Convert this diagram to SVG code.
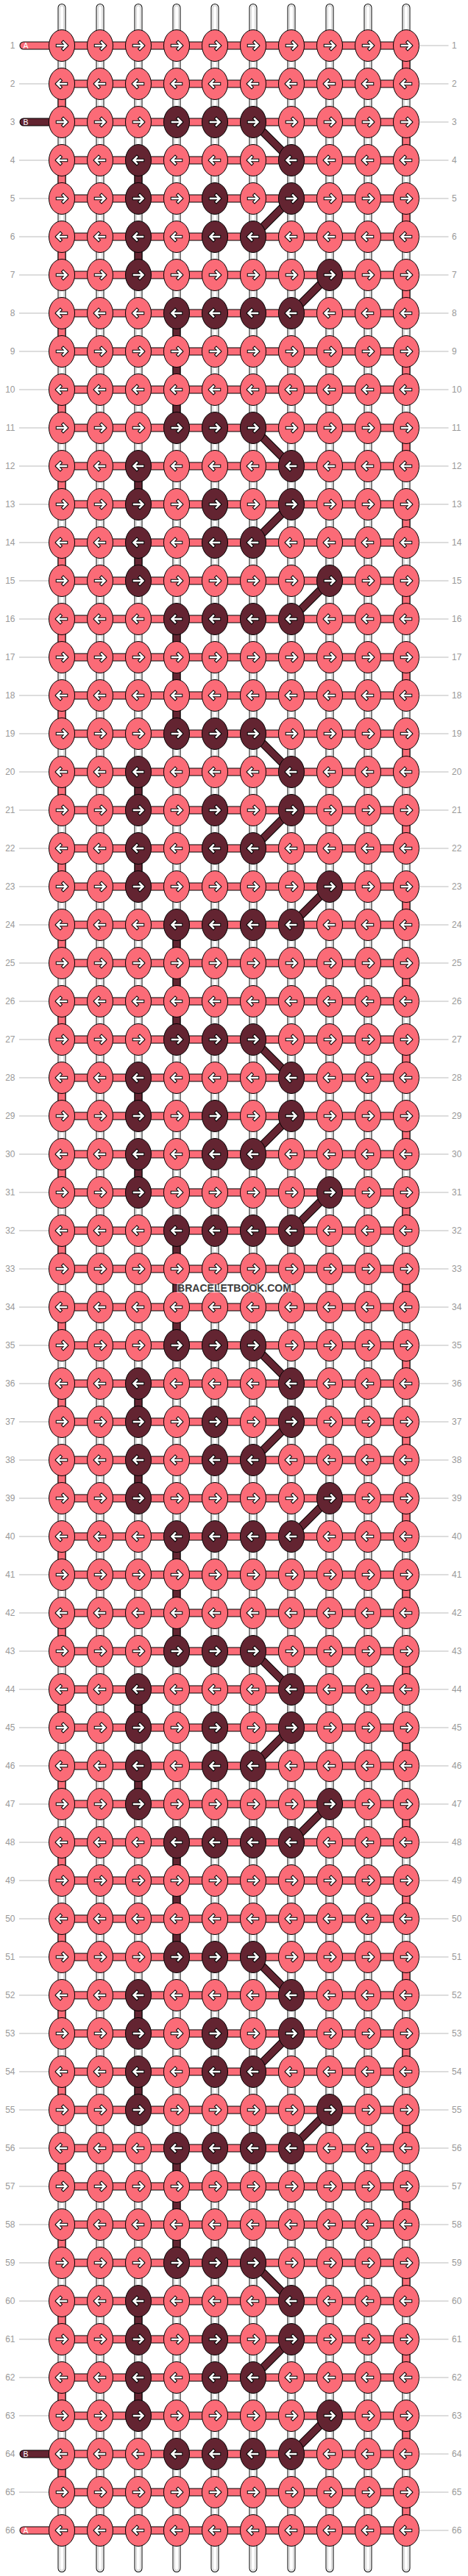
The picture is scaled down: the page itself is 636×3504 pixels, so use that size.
<svg xmlns="http://www.w3.org/2000/svg" width="636" height="3504" viewBox="0 0 636 3504">
<style>
.P{fill:#fb6b77;stroke:#000;stroke-width:1}
.D{fill:#632431;stroke:#000;stroke-width:1}
.ao{fill:none;stroke:#000;stroke-width:4.5;stroke-linecap:square}
.ai{fill:none;stroke:#fff;stroke-width:2.5;stroke-linecap:square}
.w1{fill:none;stroke:#000;stroke-width:11;stroke-linecap:round}
.w2{fill:none;stroke:#fff;stroke-width:9;stroke-linecap:round}
.w3{fill:none;stroke:#c8c8c8;stroke-width:6.5;stroke-linecap:round}
.w4{fill:none;stroke:#fff;stroke-width:4.5;stroke-linecap:round}
.ob{fill:none;stroke:#000;stroke-width:11}
.pk{fill:none;stroke:#fb6b77;stroke-width:9}
.dk{fill:none;stroke:#632431;stroke-width:9}
.obr{fill:none;stroke:#000;stroke-width:11;stroke-linecap:round}
.pkr{fill:none;stroke:#fb6b77;stroke-width:9;stroke-linecap:round}
.dkr{fill:none;stroke:#632431;stroke-width:9;stroke-linecap:round}
.gl{fill:none;stroke:#bbb;stroke-width:1}
.num{font-family:"Liberation Sans",Arial,sans-serif;font-size:12px;fill:#999}
.tl{font-family:"Liberation Sans",Arial,sans-serif;font-size:10.5px;fill:#fff}
.wm{font-family:"Liberation Sans",Arial,sans-serif;font-size:14px;font-weight:bold;fill:#3c3c3c;stroke:#fff;stroke-opacity:.6;stroke-width:2.5;paint-order:stroke;text-anchor:middle}
</style>
<defs>
<path id="ws" d="M84 10.5V3493.5m52-3483V3493.5m52-3483V3493.5m52-3483V3493.5m52-3483V3493.5m52-3483V3493.5m52-3483V3493.5m52-3483V3493.5m52-3483V3493.5m52-3483V3493.5"/>
<path id="hb" d="M84 62h468
m-468 52h468m-468 52h468m-468 52h468m-468 52h468m-468 52h468
m-468 52h468m-468 52h468m-468 52h468m-468 52h468m-468 52h468
m-468 52h468m-468 52h468m-468 52h468m-468 52h468m-468 52h468
m-468 52h468m-468 52h468m-468 52h468m-468 52h468m-468 52h468
m-468 52h468m-468 52h468m-468 52h468m-468 52h468m-468 52h468
m-468 52h468m-468 52h468m-468 52h468m-468 52h468m-468 52h468
m-468 52h468m-468 52h468m-468 52h468m-468 52h468m-468 52h468
m-468 52h468m-468 52h468m-468 52h468m-468 52h468m-468 52h468
m-468 52h468m-468 52h468m-468 52h468m-468 52h468m-468 52h468
m-468 52h468m-468 52h468m-468 52h468m-468 52h468m-468 52h468
m-468 52h468m-468 52h468m-468 52h468m-468 52h468m-468 52h468
m-468 52h468m-468 52h468m-468 52h468m-468 52h468m-468 52h468
m-468 52h468m-468 52h468m-468 52h468m-468 52h468m-468 52h468"/>
<path id="dc" d="M344 166L396 218M188 218V270M396 270L344 322M188 322V374M448 374L396 426M240 426V582M344 582L396 634M188 634V686M396 686L344 738M188 738V790M448 790L396 842M240 842V998M344 998L396 1050M188 1050V1102M396 1102L344 1154M188 1154V1206M448 1206L396 1258M240 1258V1414M344 1414L396 1466M188 1466V1518M396 1518L344 1570M188 1570V1622M448 1622L396 1674M240 1674V1830M344 1830L396 1882M188 1882V1934M396 1934L344 1986M188 1986V2038M448 2038L396 2090M240 2090V2246M344 2246L396 2298M188 2298V2350M396 2350L344 2402M188 2402V2454M448 2454L396 2506M240 2506V2662M344 2662L396 2714M188 2714V2766M396 2766L344 2818M188 2818V2870M448 2870L396 2922M240 2922V3078M344 3078L396 3130M188 3130V3182M396 3182L344 3234M188 3234V3286M448 3286L396 3338"/>
<g id="aR"><path class="ao" d="M-6 0H6M2-4.5L6.5 0L2 4.5"/><path class="ai" d="M-6 0H6M2-4.5L6.5 0L2 4.5"/></g>
<g id="aL"><use href="#aR" transform="scale(-1,1)"/></g>
<g id="pR"><ellipse class="P" rx="17.5" ry="21.5"/><use href="#aR"/></g>
<g id="pL"><ellipse class="P" rx="17.5" ry="21.5"/><use href="#aL"/></g>
<g id="dR"><ellipse class="D" rx="17.5" ry="21.5"/><use href="#aR"/></g>
<g id="dL"><ellipse class="D" rx="17.5" ry="21.5"/><use href="#aL"/></g>
</defs>
<rect width="636" height="3504" fill="#fff"/>
<g id="strings">
<use href="#ws" class="w1"/><use href="#ws" class="w2"/><use href="#ws" class="w3"/><use href="#ws" class="w4"/>
</g>
<g id="connectors">
<use href="#hb" class="ob"/><use href="#hb" class="pk"/>
<path class="ob" d="M84 114V3390" stroke-dasharray="52 52"/>
<path class="ob" d="M552 62V3442" stroke-dasharray="52 52"/>
<path class="pk" d="M84 114V3390" stroke-dasharray="52 52"/>
<path class="pk" d="M552 62V3442" stroke-dasharray="52 52"/>
<use href="#dc" class="ob"/><use href="#dc" class="dk"/>
<path class="obr" d="M32 62H84M32 166H84M32 3338H84M32 3442H84"/>
<path class="pkr" d="M32 62H84M32 3442H84"/>
<path class="dkr" d="M32 166H84M32 3338H84"/>
</g>
<g id="knots">
<g id="r1" transform="translate(0,62)"><use id="k1-1" href="#pR" x="84"/><use id="k1-2" href="#pR" x="136"/><use id="k1-3" href="#pR" x="188"/><use id="k1-4" href="#pR" x="240"/><use id="k1-5" href="#pR" x="292"/><use id="k1-6" href="#pR" x="344"/><use id="k1-7" href="#pR" x="396"/><use id="k1-8" href="#pR" x="448"/><use id="k1-9" href="#pR" x="500"/><use id="k1-10" href="#pR" x="552"/></g>
<g id="r2" transform="translate(0,114)"><use id="k2-1" href="#pL" x="84"/><use id="k2-2" href="#pL" x="136"/><use id="k2-3" href="#pL" x="188"/><use id="k2-4" href="#pL" x="240"/><use id="k2-5" href="#pL" x="292"/><use id="k2-6" href="#pL" x="344"/><use id="k2-7" href="#pL" x="396"/><use id="k2-8" href="#pL" x="448"/><use id="k2-9" href="#pL" x="500"/><use id="k2-10" href="#pL" x="552"/></g>
<g id="r3" transform="translate(0,166)"><use id="k3-1" href="#pR" x="84"/><use id="k3-2" href="#pR" x="136"/><use id="k3-3" href="#pR" x="188"/><use id="k3-4" href="#dR" x="240"/><use id="k3-5" href="#dR" x="292"/><use id="k3-6" href="#dR" x="344"/><use id="k3-7" href="#pR" x="396"/><use id="k3-8" href="#pR" x="448"/><use id="k3-9" href="#pR" x="500"/><use id="k3-10" href="#pR" x="552"/></g>
<g id="r4" transform="translate(0,218)"><use id="k4-1" href="#pL" x="84"/><use id="k4-2" href="#pL" x="136"/><use id="k4-3" href="#dL" x="188"/><use id="k4-4" href="#pL" x="240"/><use id="k4-5" href="#pL" x="292"/><use id="k4-6" href="#pL" x="344"/><use id="k4-7" href="#dL" x="396"/><use id="k4-8" href="#pL" x="448"/><use id="k4-9" href="#pL" x="500"/><use id="k4-10" href="#pL" x="552"/></g>
<g id="r5" transform="translate(0,270)"><use id="k5-1" href="#pR" x="84"/><use id="k5-2" href="#pR" x="136"/><use id="k5-3" href="#dR" x="188"/><use id="k5-4" href="#pR" x="240"/><use id="k5-5" href="#dR" x="292"/><use id="k5-6" href="#pR" x="344"/><use id="k5-7" href="#dR" x="396"/><use id="k5-8" href="#pR" x="448"/><use id="k5-9" href="#pR" x="500"/><use id="k5-10" href="#pR" x="552"/></g>
<g id="r6" transform="translate(0,322)"><use id="k6-1" href="#pL" x="84"/><use id="k6-2" href="#pL" x="136"/><use id="k6-3" href="#dL" x="188"/><use id="k6-4" href="#pL" x="240"/><use id="k6-5" href="#dL" x="292"/><use id="k6-6" href="#dL" x="344"/><use id="k6-7" href="#pL" x="396"/><use id="k6-8" href="#pL" x="448"/><use id="k6-9" href="#pL" x="500"/><use id="k6-10" href="#pL" x="552"/></g>
<g id="r7" transform="translate(0,374)"><use id="k7-1" href="#pR" x="84"/><use id="k7-2" href="#pR" x="136"/><use id="k7-3" href="#dR" x="188"/><use id="k7-4" href="#pR" x="240"/><use id="k7-5" href="#pR" x="292"/><use id="k7-6" href="#pR" x="344"/><use id="k7-7" href="#pR" x="396"/><use id="k7-8" href="#dR" x="448"/><use id="k7-9" href="#pR" x="500"/><use id="k7-10" href="#pR" x="552"/></g>
<g id="r8" transform="translate(0,426)"><use id="k8-1" href="#pL" x="84"/><use id="k8-2" href="#pL" x="136"/><use id="k8-3" href="#pL" x="188"/><use id="k8-4" href="#dL" x="240"/><use id="k8-5" href="#dL" x="292"/><use id="k8-6" href="#dL" x="344"/><use id="k8-7" href="#dL" x="396"/><use id="k8-8" href="#pL" x="448"/><use id="k8-9" href="#pL" x="500"/><use id="k8-10" href="#pL" x="552"/></g>
<g id="r9" transform="translate(0,478)"><use id="k9-1" href="#pR" x="84"/><use id="k9-2" href="#pR" x="136"/><use id="k9-3" href="#pR" x="188"/><use id="k9-4" href="#pR" x="240"/><use id="k9-5" href="#pR" x="292"/><use id="k9-6" href="#pR" x="344"/><use id="k9-7" href="#pR" x="396"/><use id="k9-8" href="#pR" x="448"/><use id="k9-9" href="#pR" x="500"/><use id="k9-10" href="#pR" x="552"/></g>
<g id="r10" transform="translate(0,530)"><use id="k10-1" href="#pL" x="84"/><use id="k10-2" href="#pL" x="136"/><use id="k10-3" href="#pL" x="188"/><use id="k10-4" href="#pL" x="240"/><use id="k10-5" href="#pL" x="292"/><use id="k10-6" href="#pL" x="344"/><use id="k10-7" href="#pL" x="396"/><use id="k10-8" href="#pL" x="448"/><use id="k10-9" href="#pL" x="500"/><use id="k10-10" href="#pL" x="552"/></g>
<g id="r11" transform="translate(0,582)"><use id="k11-1" href="#pR" x="84"/><use id="k11-2" href="#pR" x="136"/><use id="k11-3" href="#pR" x="188"/><use id="k11-4" href="#dR" x="240"/><use id="k11-5" href="#dR" x="292"/><use id="k11-6" href="#dR" x="344"/><use id="k11-7" href="#pR" x="396"/><use id="k11-8" href="#pR" x="448"/><use id="k11-9" href="#pR" x="500"/><use id="k11-10" href="#pR" x="552"/></g>
<g id="r12" transform="translate(0,634)"><use id="k12-1" href="#pL" x="84"/><use id="k12-2" href="#pL" x="136"/><use id="k12-3" href="#dL" x="188"/><use id="k12-4" href="#pL" x="240"/><use id="k12-5" href="#pL" x="292"/><use id="k12-6" href="#pL" x="344"/><use id="k12-7" href="#dL" x="396"/><use id="k12-8" href="#pL" x="448"/><use id="k12-9" href="#pL" x="500"/><use id="k12-10" href="#pL" x="552"/></g>
<g id="r13" transform="translate(0,686)"><use id="k13-1" href="#pR" x="84"/><use id="k13-2" href="#pR" x="136"/><use id="k13-3" href="#dR" x="188"/><use id="k13-4" href="#pR" x="240"/><use id="k13-5" href="#dR" x="292"/><use id="k13-6" href="#pR" x="344"/><use id="k13-7" href="#dR" x="396"/><use id="k13-8" href="#pR" x="448"/><use id="k13-9" href="#pR" x="500"/><use id="k13-10" href="#pR" x="552"/></g>
<g id="r14" transform="translate(0,738)"><use id="k14-1" href="#pL" x="84"/><use id="k14-2" href="#pL" x="136"/><use id="k14-3" href="#dL" x="188"/><use id="k14-4" href="#pL" x="240"/><use id="k14-5" href="#dL" x="292"/><use id="k14-6" href="#dL" x="344"/><use id="k14-7" href="#pL" x="396"/><use id="k14-8" href="#pL" x="448"/><use id="k14-9" href="#pL" x="500"/><use id="k14-10" href="#pL" x="552"/></g>
<g id="r15" transform="translate(0,790)"><use id="k15-1" href="#pR" x="84"/><use id="k15-2" href="#pR" x="136"/><use id="k15-3" href="#dR" x="188"/><use id="k15-4" href="#pR" x="240"/><use id="k15-5" href="#pR" x="292"/><use id="k15-6" href="#pR" x="344"/><use id="k15-7" href="#pR" x="396"/><use id="k15-8" href="#dR" x="448"/><use id="k15-9" href="#pR" x="500"/><use id="k15-10" href="#pR" x="552"/></g>
<g id="r16" transform="translate(0,842)"><use id="k16-1" href="#pL" x="84"/><use id="k16-2" href="#pL" x="136"/><use id="k16-3" href="#pL" x="188"/><use id="k16-4" href="#dL" x="240"/><use id="k16-5" href="#dL" x="292"/><use id="k16-6" href="#dL" x="344"/><use id="k16-7" href="#dL" x="396"/><use id="k16-8" href="#pL" x="448"/><use id="k16-9" href="#pL" x="500"/><use id="k16-10" href="#pL" x="552"/></g>
<g id="r17" transform="translate(0,894)"><use id="k17-1" href="#pR" x="84"/><use id="k17-2" href="#pR" x="136"/><use id="k17-3" href="#pR" x="188"/><use id="k17-4" href="#pR" x="240"/><use id="k17-5" href="#pR" x="292"/><use id="k17-6" href="#pR" x="344"/><use id="k17-7" href="#pR" x="396"/><use id="k17-8" href="#pR" x="448"/><use id="k17-9" href="#pR" x="500"/><use id="k17-10" href="#pR" x="552"/></g>
<g id="r18" transform="translate(0,946)"><use id="k18-1" href="#pL" x="84"/><use id="k18-2" href="#pL" x="136"/><use id="k18-3" href="#pL" x="188"/><use id="k18-4" href="#pL" x="240"/><use id="k18-5" href="#pL" x="292"/><use id="k18-6" href="#pL" x="344"/><use id="k18-7" href="#pL" x="396"/><use id="k18-8" href="#pL" x="448"/><use id="k18-9" href="#pL" x="500"/><use id="k18-10" href="#pL" x="552"/></g>
<g id="r19" transform="translate(0,998)"><use id="k19-1" href="#pR" x="84"/><use id="k19-2" href="#pR" x="136"/><use id="k19-3" href="#pR" x="188"/><use id="k19-4" href="#dR" x="240"/><use id="k19-5" href="#dR" x="292"/><use id="k19-6" href="#dR" x="344"/><use id="k19-7" href="#pR" x="396"/><use id="k19-8" href="#pR" x="448"/><use id="k19-9" href="#pR" x="500"/><use id="k19-10" href="#pR" x="552"/></g>
<g id="r20" transform="translate(0,1050)"><use id="k20-1" href="#pL" x="84"/><use id="k20-2" href="#pL" x="136"/><use id="k20-3" href="#dL" x="188"/><use id="k20-4" href="#pL" x="240"/><use id="k20-5" href="#pL" x="292"/><use id="k20-6" href="#pL" x="344"/><use id="k20-7" href="#dL" x="396"/><use id="k20-8" href="#pL" x="448"/><use id="k20-9" href="#pL" x="500"/><use id="k20-10" href="#pL" x="552"/></g>
<g id="r21" transform="translate(0,1102)"><use id="k21-1" href="#pR" x="84"/><use id="k21-2" href="#pR" x="136"/><use id="k21-3" href="#dR" x="188"/><use id="k21-4" href="#pR" x="240"/><use id="k21-5" href="#dR" x="292"/><use id="k21-6" href="#pR" x="344"/><use id="k21-7" href="#dR" x="396"/><use id="k21-8" href="#pR" x="448"/><use id="k21-9" href="#pR" x="500"/><use id="k21-10" href="#pR" x="552"/></g>
<g id="r22" transform="translate(0,1154)"><use id="k22-1" href="#pL" x="84"/><use id="k22-2" href="#pL" x="136"/><use id="k22-3" href="#dL" x="188"/><use id="k22-4" href="#pL" x="240"/><use id="k22-5" href="#dL" x="292"/><use id="k22-6" href="#dL" x="344"/><use id="k22-7" href="#pL" x="396"/><use id="k22-8" href="#pL" x="448"/><use id="k22-9" href="#pL" x="500"/><use id="k22-10" href="#pL" x="552"/></g>
<g id="r23" transform="translate(0,1206)"><use id="k23-1" href="#pR" x="84"/><use id="k23-2" href="#pR" x="136"/><use id="k23-3" href="#dR" x="188"/><use id="k23-4" href="#pR" x="240"/><use id="k23-5" href="#pR" x="292"/><use id="k23-6" href="#pR" x="344"/><use id="k23-7" href="#pR" x="396"/><use id="k23-8" href="#dR" x="448"/><use id="k23-9" href="#pR" x="500"/><use id="k23-10" href="#pR" x="552"/></g>
<g id="r24" transform="translate(0,1258)"><use id="k24-1" href="#pL" x="84"/><use id="k24-2" href="#pL" x="136"/><use id="k24-3" href="#pL" x="188"/><use id="k24-4" href="#dL" x="240"/><use id="k24-5" href="#dL" x="292"/><use id="k24-6" href="#dL" x="344"/><use id="k24-7" href="#dL" x="396"/><use id="k24-8" href="#pL" x="448"/><use id="k24-9" href="#pL" x="500"/><use id="k24-10" href="#pL" x="552"/></g>
<g id="r25" transform="translate(0,1310)"><use id="k25-1" href="#pR" x="84"/><use id="k25-2" href="#pR" x="136"/><use id="k25-3" href="#pR" x="188"/><use id="k25-4" href="#pR" x="240"/><use id="k25-5" href="#pR" x="292"/><use id="k25-6" href="#pR" x="344"/><use id="k25-7" href="#pR" x="396"/><use id="k25-8" href="#pR" x="448"/><use id="k25-9" href="#pR" x="500"/><use id="k25-10" href="#pR" x="552"/></g>
<g id="r26" transform="translate(0,1362)"><use id="k26-1" href="#pL" x="84"/><use id="k26-2" href="#pL" x="136"/><use id="k26-3" href="#pL" x="188"/><use id="k26-4" href="#pL" x="240"/><use id="k26-5" href="#pL" x="292"/><use id="k26-6" href="#pL" x="344"/><use id="k26-7" href="#pL" x="396"/><use id="k26-8" href="#pL" x="448"/><use id="k26-9" href="#pL" x="500"/><use id="k26-10" href="#pL" x="552"/></g>
<g id="r27" transform="translate(0,1414)"><use id="k27-1" href="#pR" x="84"/><use id="k27-2" href="#pR" x="136"/><use id="k27-3" href="#pR" x="188"/><use id="k27-4" href="#dR" x="240"/><use id="k27-5" href="#dR" x="292"/><use id="k27-6" href="#dR" x="344"/><use id="k27-7" href="#pR" x="396"/><use id="k27-8" href="#pR" x="448"/><use id="k27-9" href="#pR" x="500"/><use id="k27-10" href="#pR" x="552"/></g>
<g id="r28" transform="translate(0,1466)"><use id="k28-1" href="#pL" x="84"/><use id="k28-2" href="#pL" x="136"/><use id="k28-3" href="#dL" x="188"/><use id="k28-4" href="#pL" x="240"/><use id="k28-5" href="#pL" x="292"/><use id="k28-6" href="#pL" x="344"/><use id="k28-7" href="#dL" x="396"/><use id="k28-8" href="#pL" x="448"/><use id="k28-9" href="#pL" x="500"/><use id="k28-10" href="#pL" x="552"/></g>
<g id="r29" transform="translate(0,1518)"><use id="k29-1" href="#pR" x="84"/><use id="k29-2" href="#pR" x="136"/><use id="k29-3" href="#dR" x="188"/><use id="k29-4" href="#pR" x="240"/><use id="k29-5" href="#dR" x="292"/><use id="k29-6" href="#pR" x="344"/><use id="k29-7" href="#dR" x="396"/><use id="k29-8" href="#pR" x="448"/><use id="k29-9" href="#pR" x="500"/><use id="k29-10" href="#pR" x="552"/></g>
<g id="r30" transform="translate(0,1570)"><use id="k30-1" href="#pL" x="84"/><use id="k30-2" href="#pL" x="136"/><use id="k30-3" href="#dL" x="188"/><use id="k30-4" href="#pL" x="240"/><use id="k30-5" href="#dL" x="292"/><use id="k30-6" href="#dL" x="344"/><use id="k30-7" href="#pL" x="396"/><use id="k30-8" href="#pL" x="448"/><use id="k30-9" href="#pL" x="500"/><use id="k30-10" href="#pL" x="552"/></g>
<g id="r31" transform="translate(0,1622)"><use id="k31-1" href="#pR" x="84"/><use id="k31-2" href="#pR" x="136"/><use id="k31-3" href="#dR" x="188"/><use id="k31-4" href="#pR" x="240"/><use id="k31-5" href="#pR" x="292"/><use id="k31-6" href="#pR" x="344"/><use id="k31-7" href="#pR" x="396"/><use id="k31-8" href="#dR" x="448"/><use id="k31-9" href="#pR" x="500"/><use id="k31-10" href="#pR" x="552"/></g>
<g id="r32" transform="translate(0,1674)"><use id="k32-1" href="#pL" x="84"/><use id="k32-2" href="#pL" x="136"/><use id="k32-3" href="#pL" x="188"/><use id="k32-4" href="#dL" x="240"/><use id="k32-5" href="#dL" x="292"/><use id="k32-6" href="#dL" x="344"/><use id="k32-7" href="#dL" x="396"/><use id="k32-8" href="#pL" x="448"/><use id="k32-9" href="#pL" x="500"/><use id="k32-10" href="#pL" x="552"/></g>
<g id="r33" transform="translate(0,1726)"><use id="k33-1" href="#pR" x="84"/><use id="k33-2" href="#pR" x="136"/><use id="k33-3" href="#pR" x="188"/><use id="k33-4" href="#pR" x="240"/><use id="k33-5" href="#pR" x="292"/><use id="k33-6" href="#pR" x="344"/><use id="k33-7" href="#pR" x="396"/><use id="k33-8" href="#pR" x="448"/><use id="k33-9" href="#pR" x="500"/><use id="k33-10" href="#pR" x="552"/></g>
<g id="r34" transform="translate(0,1778)"><use id="k34-1" href="#pL" x="84"/><use id="k34-2" href="#pL" x="136"/><use id="k34-3" href="#pL" x="188"/><use id="k34-4" href="#pL" x="240"/><use id="k34-5" href="#pL" x="292"/><use id="k34-6" href="#pL" x="344"/><use id="k34-7" href="#pL" x="396"/><use id="k34-8" href="#pL" x="448"/><use id="k34-9" href="#pL" x="500"/><use id="k34-10" href="#pL" x="552"/></g>
<g id="r35" transform="translate(0,1830)"><use id="k35-1" href="#pR" x="84"/><use id="k35-2" href="#pR" x="136"/><use id="k35-3" href="#pR" x="188"/><use id="k35-4" href="#dR" x="240"/><use id="k35-5" href="#dR" x="292"/><use id="k35-6" href="#dR" x="344"/><use id="k35-7" href="#pR" x="396"/><use id="k35-8" href="#pR" x="448"/><use id="k35-9" href="#pR" x="500"/><use id="k35-10" href="#pR" x="552"/></g>
<g id="r36" transform="translate(0,1882)"><use id="k36-1" href="#pL" x="84"/><use id="k36-2" href="#pL" x="136"/><use id="k36-3" href="#dL" x="188"/><use id="k36-4" href="#pL" x="240"/><use id="k36-5" href="#pL" x="292"/><use id="k36-6" href="#pL" x="344"/><use id="k36-7" href="#dL" x="396"/><use id="k36-8" href="#pL" x="448"/><use id="k36-9" href="#pL" x="500"/><use id="k36-10" href="#pL" x="552"/></g>
<g id="r37" transform="translate(0,1934)"><use id="k37-1" href="#pR" x="84"/><use id="k37-2" href="#pR" x="136"/><use id="k37-3" href="#dR" x="188"/><use id="k37-4" href="#pR" x="240"/><use id="k37-5" href="#dR" x="292"/><use id="k37-6" href="#pR" x="344"/><use id="k37-7" href="#dR" x="396"/><use id="k37-8" href="#pR" x="448"/><use id="k37-9" href="#pR" x="500"/><use id="k37-10" href="#pR" x="552"/></g>
<g id="r38" transform="translate(0,1986)"><use id="k38-1" href="#pL" x="84"/><use id="k38-2" href="#pL" x="136"/><use id="k38-3" href="#dL" x="188"/><use id="k38-4" href="#pL" x="240"/><use id="k38-5" href="#dL" x="292"/><use id="k38-6" href="#dL" x="344"/><use id="k38-7" href="#pL" x="396"/><use id="k38-8" href="#pL" x="448"/><use id="k38-9" href="#pL" x="500"/><use id="k38-10" href="#pL" x="552"/></g>
<g id="r39" transform="translate(0,2038)"><use id="k39-1" href="#pR" x="84"/><use id="k39-2" href="#pR" x="136"/><use id="k39-3" href="#dR" x="188"/><use id="k39-4" href="#pR" x="240"/><use id="k39-5" href="#pR" x="292"/><use id="k39-6" href="#pR" x="344"/><use id="k39-7" href="#pR" x="396"/><use id="k39-8" href="#dR" x="448"/><use id="k39-9" href="#pR" x="500"/><use id="k39-10" href="#pR" x="552"/></g>
<g id="r40" transform="translate(0,2090)"><use id="k40-1" href="#pL" x="84"/><use id="k40-2" href="#pL" x="136"/><use id="k40-3" href="#pL" x="188"/><use id="k40-4" href="#dL" x="240"/><use id="k40-5" href="#dL" x="292"/><use id="k40-6" href="#dL" x="344"/><use id="k40-7" href="#dL" x="396"/><use id="k40-8" href="#pL" x="448"/><use id="k40-9" href="#pL" x="500"/><use id="k40-10" href="#pL" x="552"/></g>
<g id="r41" transform="translate(0,2142)"><use id="k41-1" href="#pR" x="84"/><use id="k41-2" href="#pR" x="136"/><use id="k41-3" href="#pR" x="188"/><use id="k41-4" href="#pR" x="240"/><use id="k41-5" href="#pR" x="292"/><use id="k41-6" href="#pR" x="344"/><use id="k41-7" href="#pR" x="396"/><use id="k41-8" href="#pR" x="448"/><use id="k41-9" href="#pR" x="500"/><use id="k41-10" href="#pR" x="552"/></g>
<g id="r42" transform="translate(0,2194)"><use id="k42-1" href="#pL" x="84"/><use id="k42-2" href="#pL" x="136"/><use id="k42-3" href="#pL" x="188"/><use id="k42-4" href="#pL" x="240"/><use id="k42-5" href="#pL" x="292"/><use id="k42-6" href="#pL" x="344"/><use id="k42-7" href="#pL" x="396"/><use id="k42-8" href="#pL" x="448"/><use id="k42-9" href="#pL" x="500"/><use id="k42-10" href="#pL" x="552"/></g>
<g id="r43" transform="translate(0,2246)"><use id="k43-1" href="#pR" x="84"/><use id="k43-2" href="#pR" x="136"/><use id="k43-3" href="#pR" x="188"/><use id="k43-4" href="#dR" x="240"/><use id="k43-5" href="#dR" x="292"/><use id="k43-6" href="#dR" x="344"/><use id="k43-7" href="#pR" x="396"/><use id="k43-8" href="#pR" x="448"/><use id="k43-9" href="#pR" x="500"/><use id="k43-10" href="#pR" x="552"/></g>
<g id="r44" transform="translate(0,2298)"><use id="k44-1" href="#pL" x="84"/><use id="k44-2" href="#pL" x="136"/><use id="k44-3" href="#dL" x="188"/><use id="k44-4" href="#pL" x="240"/><use id="k44-5" href="#pL" x="292"/><use id="k44-6" href="#pL" x="344"/><use id="k44-7" href="#dL" x="396"/><use id="k44-8" href="#pL" x="448"/><use id="k44-9" href="#pL" x="500"/><use id="k44-10" href="#pL" x="552"/></g>
<g id="r45" transform="translate(0,2350)"><use id="k45-1" href="#pR" x="84"/><use id="k45-2" href="#pR" x="136"/><use id="k45-3" href="#dR" x="188"/><use id="k45-4" href="#pR" x="240"/><use id="k45-5" href="#dR" x="292"/><use id="k45-6" href="#pR" x="344"/><use id="k45-7" href="#dR" x="396"/><use id="k45-8" href="#pR" x="448"/><use id="k45-9" href="#pR" x="500"/><use id="k45-10" href="#pR" x="552"/></g>
<g id="r46" transform="translate(0,2402)"><use id="k46-1" href="#pL" x="84"/><use id="k46-2" href="#pL" x="136"/><use id="k46-3" href="#dL" x="188"/><use id="k46-4" href="#pL" x="240"/><use id="k46-5" href="#dL" x="292"/><use id="k46-6" href="#dL" x="344"/><use id="k46-7" href="#pL" x="396"/><use id="k46-8" href="#pL" x="448"/><use id="k46-9" href="#pL" x="500"/><use id="k46-10" href="#pL" x="552"/></g>
<g id="r47" transform="translate(0,2454)"><use id="k47-1" href="#pR" x="84"/><use id="k47-2" href="#pR" x="136"/><use id="k47-3" href="#dR" x="188"/><use id="k47-4" href="#pR" x="240"/><use id="k47-5" href="#pR" x="292"/><use id="k47-6" href="#pR" x="344"/><use id="k47-7" href="#pR" x="396"/><use id="k47-8" href="#dR" x="448"/><use id="k47-9" href="#pR" x="500"/><use id="k47-10" href="#pR" x="552"/></g>
<g id="r48" transform="translate(0,2506)"><use id="k48-1" href="#pL" x="84"/><use id="k48-2" href="#pL" x="136"/><use id="k48-3" href="#pL" x="188"/><use id="k48-4" href="#dL" x="240"/><use id="k48-5" href="#dL" x="292"/><use id="k48-6" href="#dL" x="344"/><use id="k48-7" href="#dL" x="396"/><use id="k48-8" href="#pL" x="448"/><use id="k48-9" href="#pL" x="500"/><use id="k48-10" href="#pL" x="552"/></g>
<g id="r49" transform="translate(0,2558)"><use id="k49-1" href="#pR" x="84"/><use id="k49-2" href="#pR" x="136"/><use id="k49-3" href="#pR" x="188"/><use id="k49-4" href="#pR" x="240"/><use id="k49-5" href="#pR" x="292"/><use id="k49-6" href="#pR" x="344"/><use id="k49-7" href="#pR" x="396"/><use id="k49-8" href="#pR" x="448"/><use id="k49-9" href="#pR" x="500"/><use id="k49-10" href="#pR" x="552"/></g>
<g id="r50" transform="translate(0,2610)"><use id="k50-1" href="#pL" x="84"/><use id="k50-2" href="#pL" x="136"/><use id="k50-3" href="#pL" x="188"/><use id="k50-4" href="#pL" x="240"/><use id="k50-5" href="#pL" x="292"/><use id="k50-6" href="#pL" x="344"/><use id="k50-7" href="#pL" x="396"/><use id="k50-8" href="#pL" x="448"/><use id="k50-9" href="#pL" x="500"/><use id="k50-10" href="#pL" x="552"/></g>
<g id="r51" transform="translate(0,2662)"><use id="k51-1" href="#pR" x="84"/><use id="k51-2" href="#pR" x="136"/><use id="k51-3" href="#pR" x="188"/><use id="k51-4" href="#dR" x="240"/><use id="k51-5" href="#dR" x="292"/><use id="k51-6" href="#dR" x="344"/><use id="k51-7" href="#pR" x="396"/><use id="k51-8" href="#pR" x="448"/><use id="k51-9" href="#pR" x="500"/><use id="k51-10" href="#pR" x="552"/></g>
<g id="r52" transform="translate(0,2714)"><use id="k52-1" href="#pL" x="84"/><use id="k52-2" href="#pL" x="136"/><use id="k52-3" href="#dL" x="188"/><use id="k52-4" href="#pL" x="240"/><use id="k52-5" href="#pL" x="292"/><use id="k52-6" href="#pL" x="344"/><use id="k52-7" href="#dL" x="396"/><use id="k52-8" href="#pL" x="448"/><use id="k52-9" href="#pL" x="500"/><use id="k52-10" href="#pL" x="552"/></g>
<g id="r53" transform="translate(0,2766)"><use id="k53-1" href="#pR" x="84"/><use id="k53-2" href="#pR" x="136"/><use id="k53-3" href="#dR" x="188"/><use id="k53-4" href="#pR" x="240"/><use id="k53-5" href="#dR" x="292"/><use id="k53-6" href="#pR" x="344"/><use id="k53-7" href="#dR" x="396"/><use id="k53-8" href="#pR" x="448"/><use id="k53-9" href="#pR" x="500"/><use id="k53-10" href="#pR" x="552"/></g>
<g id="r54" transform="translate(0,2818)"><use id="k54-1" href="#pL" x="84"/><use id="k54-2" href="#pL" x="136"/><use id="k54-3" href="#dL" x="188"/><use id="k54-4" href="#pL" x="240"/><use id="k54-5" href="#dL" x="292"/><use id="k54-6" href="#dL" x="344"/><use id="k54-7" href="#pL" x="396"/><use id="k54-8" href="#pL" x="448"/><use id="k54-9" href="#pL" x="500"/><use id="k54-10" href="#pL" x="552"/></g>
<g id="r55" transform="translate(0,2870)"><use id="k55-1" href="#pR" x="84"/><use id="k55-2" href="#pR" x="136"/><use id="k55-3" href="#dR" x="188"/><use id="k55-4" href="#pR" x="240"/><use id="k55-5" href="#pR" x="292"/><use id="k55-6" href="#pR" x="344"/><use id="k55-7" href="#pR" x="396"/><use id="k55-8" href="#dR" x="448"/><use id="k55-9" href="#pR" x="500"/><use id="k55-10" href="#pR" x="552"/></g>
<g id="r56" transform="translate(0,2922)"><use id="k56-1" href="#pL" x="84"/><use id="k56-2" href="#pL" x="136"/><use id="k56-3" href="#pL" x="188"/><use id="k56-4" href="#dL" x="240"/><use id="k56-5" href="#dL" x="292"/><use id="k56-6" href="#dL" x="344"/><use id="k56-7" href="#dL" x="396"/><use id="k56-8" href="#pL" x="448"/><use id="k56-9" href="#pL" x="500"/><use id="k56-10" href="#pL" x="552"/></g>
<g id="r57" transform="translate(0,2974)"><use id="k57-1" href="#pR" x="84"/><use id="k57-2" href="#pR" x="136"/><use id="k57-3" href="#pR" x="188"/><use id="k57-4" href="#pR" x="240"/><use id="k57-5" href="#pR" x="292"/><use id="k57-6" href="#pR" x="344"/><use id="k57-7" href="#pR" x="396"/><use id="k57-8" href="#pR" x="448"/><use id="k57-9" href="#pR" x="500"/><use id="k57-10" href="#pR" x="552"/></g>
<g id="r58" transform="translate(0,3026)"><use id="k58-1" href="#pL" x="84"/><use id="k58-2" href="#pL" x="136"/><use id="k58-3" href="#pL" x="188"/><use id="k58-4" href="#pL" x="240"/><use id="k58-5" href="#pL" x="292"/><use id="k58-6" href="#pL" x="344"/><use id="k58-7" href="#pL" x="396"/><use id="k58-8" href="#pL" x="448"/><use id="k58-9" href="#pL" x="500"/><use id="k58-10" href="#pL" x="552"/></g>
<g id="r59" transform="translate(0,3078)"><use id="k59-1" href="#pR" x="84"/><use id="k59-2" href="#pR" x="136"/><use id="k59-3" href="#pR" x="188"/><use id="k59-4" href="#dR" x="240"/><use id="k59-5" href="#dR" x="292"/><use id="k59-6" href="#dR" x="344"/><use id="k59-7" href="#pR" x="396"/><use id="k59-8" href="#pR" x="448"/><use id="k59-9" href="#pR" x="500"/><use id="k59-10" href="#pR" x="552"/></g>
<g id="r60" transform="translate(0,3130)"><use id="k60-1" href="#pL" x="84"/><use id="k60-2" href="#pL" x="136"/><use id="k60-3" href="#dL" x="188"/><use id="k60-4" href="#pL" x="240"/><use id="k60-5" href="#pL" x="292"/><use id="k60-6" href="#pL" x="344"/><use id="k60-7" href="#dL" x="396"/><use id="k60-8" href="#pL" x="448"/><use id="k60-9" href="#pL" x="500"/><use id="k60-10" href="#pL" x="552"/></g>
<g id="r61" transform="translate(0,3182)"><use id="k61-1" href="#pR" x="84"/><use id="k61-2" href="#pR" x="136"/><use id="k61-3" href="#dR" x="188"/><use id="k61-4" href="#pR" x="240"/><use id="k61-5" href="#dR" x="292"/><use id="k61-6" href="#pR" x="344"/><use id="k61-7" href="#dR" x="396"/><use id="k61-8" href="#pR" x="448"/><use id="k61-9" href="#pR" x="500"/><use id="k61-10" href="#pR" x="552"/></g>
<g id="r62" transform="translate(0,3234)"><use id="k62-1" href="#pL" x="84"/><use id="k62-2" href="#pL" x="136"/><use id="k62-3" href="#dL" x="188"/><use id="k62-4" href="#pL" x="240"/><use id="k62-5" href="#dL" x="292"/><use id="k62-6" href="#dL" x="344"/><use id="k62-7" href="#pL" x="396"/><use id="k62-8" href="#pL" x="448"/><use id="k62-9" href="#pL" x="500"/><use id="k62-10" href="#pL" x="552"/></g>
<g id="r63" transform="translate(0,3286)"><use id="k63-1" href="#pR" x="84"/><use id="k63-2" href="#pR" x="136"/><use id="k63-3" href="#dR" x="188"/><use id="k63-4" href="#pR" x="240"/><use id="k63-5" href="#pR" x="292"/><use id="k63-6" href="#pR" x="344"/><use id="k63-7" href="#pR" x="396"/><use id="k63-8" href="#dR" x="448"/><use id="k63-9" href="#pR" x="500"/><use id="k63-10" href="#pR" x="552"/></g>
<g id="r64" transform="translate(0,3338)"><use id="k64-1" href="#pL" x="84"/><use id="k64-2" href="#pL" x="136"/><use id="k64-3" href="#pL" x="188"/><use id="k64-4" href="#dL" x="240"/><use id="k64-5" href="#dL" x="292"/><use id="k64-6" href="#dL" x="344"/><use id="k64-7" href="#dL" x="396"/><use id="k64-8" href="#pL" x="448"/><use id="k64-9" href="#pL" x="500"/><use id="k64-10" href="#pL" x="552"/></g>
<g id="r65" transform="translate(0,3390)"><use id="k65-1" href="#pR" x="84"/><use id="k65-2" href="#pR" x="136"/><use id="k65-3" href="#pR" x="188"/><use id="k65-4" href="#pR" x="240"/><use id="k65-5" href="#pR" x="292"/><use id="k65-6" href="#pR" x="344"/><use id="k65-7" href="#pR" x="396"/><use id="k65-8" href="#pR" x="448"/><use id="k65-9" href="#pR" x="500"/><use id="k65-10" href="#pR" x="552"/></g>
<g id="r66" transform="translate(0,3442)"><use id="k66-1" href="#pL" x="84"/><use id="k66-2" href="#pL" x="136"/><use id="k66-3" href="#pL" x="188"/><use id="k66-4" href="#pL" x="240"/><use id="k66-5" href="#pL" x="292"/><use id="k66-6" href="#pL" x="344"/><use id="k66-7" href="#pL" x="396"/><use id="k66-8" href="#pL" x="448"/><use id="k66-9" href="#pL" x="500"/><use id="k66-10" href="#pL" x="552"/></g>
</g>
<g id="labels">
<path class="gl" d="M26 114h40M26 218h40
m-40 52h40m-40 52h40m-40 52h40m-40 52h40m-40 52h40
m-40 52h40m-40 52h40m-40 52h40m-40 52h40m-40 52h40
m-40 52h40m-40 52h40m-40 52h40m-40 52h40m-40 52h40
m-40 52h40m-40 52h40m-40 52h40m-40 52h40m-40 52h40
m-40 52h40m-40 52h40m-40 52h40m-40 52h40m-40 52h40
m-40 52h40m-40 52h40m-40 52h40m-40 52h40m-40 52h40
m-40 52h40m-40 52h40m-40 52h40m-40 52h40m-40 52h40
m-40 52h40m-40 52h40m-40 52h40m-40 52h40m-40 52h40
m-40 52h40m-40 52h40m-40 52h40m-40 52h40m-40 52h40
m-40 52h40m-40 52h40m-40 52h40m-40 52h40m-40 52h40
m-40 52h40m-40 52h40m-40 52h40m-40 52h40m-40 52h40
m-40 52h40m-40 52h40m-40 52h40m-40 52h40
M26 3390h40"/>
<path class="gl" d="M569.5 62h40
m-40 52h40m-40 52h40m-40 52h40m-40 52h40m-40 52h40
m-40 52h40m-40 52h40m-40 52h40m-40 52h40m-40 52h40
m-40 52h40m-40 52h40m-40 52h40m-40 52h40m-40 52h40
m-40 52h40m-40 52h40m-40 52h40m-40 52h40m-40 52h40
m-40 52h40m-40 52h40m-40 52h40m-40 52h40m-40 52h40
m-40 52h40m-40 52h40m-40 52h40m-40 52h40m-40 52h40
m-40 52h40m-40 52h40m-40 52h40m-40 52h40m-40 52h40
m-40 52h40m-40 52h40m-40 52h40m-40 52h40m-40 52h40
m-40 52h40m-40 52h40m-40 52h40m-40 52h40m-40 52h40
m-40 52h40m-40 52h40m-40 52h40m-40 52h40m-40 52h40
m-40 52h40m-40 52h40m-40 52h40m-40 52h40m-40 52h40
m-40 52h40m-40 52h40m-40 52h40m-40 52h40m-40 52h40
m-40 52h40m-40 52h40m-40 52h40m-40 52h40m-40 52h40"/>
<text class="tl" x="31.5" y="66">A</text><text class="tl" x="31.5" y="170">B</text><text class="tl" x="31.5" y="3342">B</text><text class="tl" x="31.5" y="3446">A</text>
<g class="num" text-anchor="end">
<text x="20.5" y="66">1</text><text x="20.5" y="118">2</text><text x="20.5" y="170">3</text><text x="20.5" y="222">4</text><text x="20.5" y="274">5</text><text x="20.5" y="326">6</text><text x="20.5" y="378">7</text><text x="20.5" y="430">8</text><text x="20.5" y="482">9</text><text x="20.5" y="534">10</text>
<text x="20.5" y="586">11</text><text x="20.5" y="638">12</text><text x="20.5" y="690">13</text><text x="20.5" y="742">14</text><text x="20.5" y="794">15</text><text x="20.5" y="846">16</text><text x="20.5" y="898">17</text><text x="20.5" y="950">18</text><text x="20.5" y="1002">19</text><text x="20.5" y="1054">20</text>
<text x="20.5" y="1106">21</text><text x="20.5" y="1158">22</text><text x="20.5" y="1210">23</text><text x="20.5" y="1262">24</text><text x="20.5" y="1314">25</text><text x="20.5" y="1366">26</text><text x="20.5" y="1418">27</text><text x="20.5" y="1470">28</text><text x="20.5" y="1522">29</text><text x="20.5" y="1574">30</text>
<text x="20.5" y="1626">31</text><text x="20.5" y="1678">32</text><text x="20.5" y="1730">33</text><text x="20.5" y="1782">34</text><text x="20.5" y="1834">35</text><text x="20.5" y="1886">36</text><text x="20.5" y="1938">37</text><text x="20.5" y="1990">38</text><text x="20.5" y="2042">39</text><text x="20.5" y="2094">40</text>
<text x="20.5" y="2146">41</text><text x="20.5" y="2198">42</text><text x="20.5" y="2250">43</text><text x="20.5" y="2302">44</text><text x="20.5" y="2354">45</text><text x="20.5" y="2406">46</text><text x="20.5" y="2458">47</text><text x="20.5" y="2510">48</text><text x="20.5" y="2562">49</text><text x="20.5" y="2614">50</text>
<text x="20.5" y="2666">51</text><text x="20.5" y="2718">52</text><text x="20.5" y="2770">53</text><text x="20.5" y="2822">54</text><text x="20.5" y="2874">55</text><text x="20.5" y="2926">56</text><text x="20.5" y="2978">57</text><text x="20.5" y="3030">58</text><text x="20.5" y="3082">59</text><text x="20.5" y="3134">60</text>
<text x="20.5" y="3186">61</text><text x="20.5" y="3238">62</text><text x="20.5" y="3290">63</text><text x="20.5" y="3342">64</text><text x="20.5" y="3394">65</text><text x="20.5" y="3446">66</text>
</g>
<g class="num">
<text x="614" y="66">1</text><text x="614" y="118">2</text><text x="614" y="170">3</text><text x="614" y="222">4</text><text x="614" y="274">5</text><text x="614" y="326">6</text><text x="614" y="378">7</text><text x="614" y="430">8</text><text x="614" y="482">9</text><text x="614" y="534">10</text>
<text x="614" y="586">11</text><text x="614" y="638">12</text><text x="614" y="690">13</text><text x="614" y="742">14</text><text x="614" y="794">15</text><text x="614" y="846">16</text><text x="614" y="898">17</text><text x="614" y="950">18</text><text x="614" y="1002">19</text><text x="614" y="1054">20</text>
<text x="614" y="1106">21</text><text x="614" y="1158">22</text><text x="614" y="1210">23</text><text x="614" y="1262">24</text><text x="614" y="1314">25</text><text x="614" y="1366">26</text><text x="614" y="1418">27</text><text x="614" y="1470">28</text><text x="614" y="1522">29</text><text x="614" y="1574">30</text>
<text x="614" y="1626">31</text><text x="614" y="1678">32</text><text x="614" y="1730">33</text><text x="614" y="1782">34</text><text x="614" y="1834">35</text><text x="614" y="1886">36</text><text x="614" y="1938">37</text><text x="614" y="1990">38</text><text x="614" y="2042">39</text><text x="614" y="2094">40</text>
<text x="614" y="2146">41</text><text x="614" y="2198">42</text><text x="614" y="2250">43</text><text x="614" y="2302">44</text><text x="614" y="2354">45</text><text x="614" y="2406">46</text><text x="614" y="2458">47</text><text x="614" y="2510">48</text><text x="614" y="2562">49</text><text x="614" y="2614">50</text>
<text x="614" y="2666">51</text><text x="614" y="2718">52</text><text x="614" y="2770">53</text><text x="614" y="2822">54</text><text x="614" y="2874">55</text><text x="614" y="2926">56</text><text x="614" y="2978">57</text><text x="614" y="3030">58</text><text x="614" y="3082">59</text><text x="614" y="3134">60</text>
<text x="614" y="3186">61</text><text x="614" y="3238">62</text><text x="614" y="3290">63</text><text x="614" y="3342">64</text><text x="614" y="3394">65</text><text x="614" y="3446">66</text>
</g>
<text class="wm" x="318.5" y="1757">BRACELETBOOK.COM</text>
</g>
</svg>
